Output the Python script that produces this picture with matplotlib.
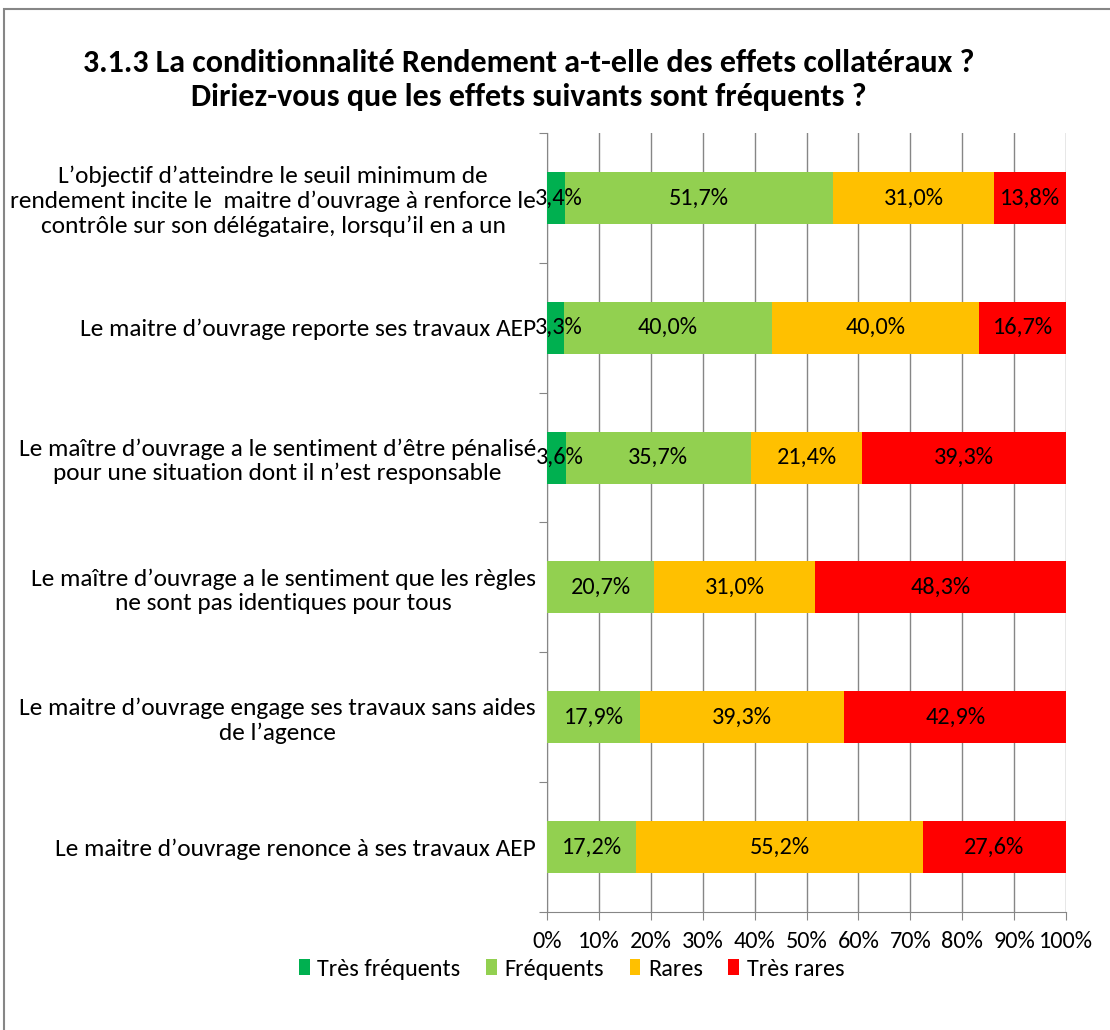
import numpy as np
import matplotlib.pyplot as plt
from matplotlib.patches import Rectangle

plt.rcParams['font.family'] = ['Carlito', 'Lato', 'DejaVu Sans']

# données
categories = [
    "L\u2019objectif d\u2019atteindre le seuil minimum de\nrendement incite le  maitre d\u2019ouvrage \u00e0 renforce le\ncontr\u00f4le sur son d\u00e9l\u00e9gataire, lorsqu\u2019il en a un",
    "Le maitre d\u2019ouvrage reporte ses travaux AEP",
    "Le ma\u00eetre d\u2019ouvrage a le sentiment d\u2019\u00eatre p\u00e9nalis\u00e9\npour une situation dont il n\u2019est responsable",
    "Le ma\u00eetre d\u2019ouvrage a le sentiment que les r\u00e8gles\nne sont pas identiques pour tous",
    "Le maitre d\u2019ouvrage engage ses travaux sans aides\nde l\u2019agence",
    "Le maitre d\u2019ouvrage renonce \u00e0 ses travaux AEP",
]
series_names = ['Tr\u00e8s fr\u00e9quents', 'Fr\u00e9quents', 'Rares', 'Tr\u00e8s rares']
tres_frequents = [3.4, 3.3, 3.6, 0.0, 0.0, 0.0]
frequents = [51.7, 40.0, 35.7, 20.7, 17.9, 17.2]
rares = [31.0, 40.0, 21.4, 31.0, 39.3, 55.2]
tres_rares = [13.8, 16.7, 39.3, 48.3, 42.9, 27.6]
colors = ['#00B050', '#92D050', '#FFC000', '#FF0000']

fig = plt.figure(figsize=(11.1, 10.3), dpi=100)
ax = fig.add_axes([0.4928, 0.1146, 0.4676, 0.7563])

fs = 17.5
y = np.arange(len(categories))
left = np.zeros(len(categories))
for name, vals, col in zip(series_names, [tres_frequents, frequents, rares, tres_rares], colors):
    vals = np.array(vals)
    ax.barh(y, vals, left=left, height=0.40, color=col, label=name, zorder=3)
    for yi, l, v in zip(y, left, vals):
        if v > 0:
            # petites valeurs : décalées un peu à droite comme dans Excel
            xpos = l + v / 2 if v > 5 else l + v / 2 + 0.6
            ax.text(xpos, yi, f'{v:.1f}%'.replace('.', ','), ha='center', va='center',
                    fontsize=fs, zorder=4)
    left += vals

ax.set_xlim(0, 100)
ax.set_ylim(len(categories) - 0.5, -0.5)
ax.set_xticks(np.arange(0, 101, 10))
ax.set_xticklabels([f'{v}%' for v in range(0, 101, 10)], fontsize=fs)
ax.set_yticks(np.arange(-0.5, len(categories), 1))
ax.set_yticklabels([])
ax.set_yticks(y, minor=True)
ax.set_yticklabels(categories, minor=True, fontsize=18.3, ha='right', multialignment='center')
ax.tick_params(axis='y', which='minor', length=0, pad=8)
ax.tick_params(axis='y', which='major', length=6, color='#868686', direction='out')
ax.tick_params(axis='x', length=6, color='#868686', direction='out', pad=8)
ax.grid(axis='x', color='#868686', lw=1, zorder=0)
for s in ['top', 'right']:
    ax.spines[s].set_visible(False)
for s in ['left', 'bottom']:
    ax.spines[s].set_color('#868686')

fig.text(0.476, 0.922,
         '3.1.3 La conditionnalit\u00e9 Rendement a-t-elle des effets collat\u00e9raux ?\nDiriez-vous que les effets suivants sont fr\u00e9quents ?',
         ha='center', va='center', fontsize=23, fontweight='bold', linespacing=1.25)

fig.legend(loc='center', bbox_to_anchor=(0.515, 0.059), ncol=4, frameon=False, fontsize=fs,
           handlelength=0.45, handleheight=0.6, handletextpad=0.3, columnspacing=1.05)

fig.patches.append(Rectangle((4 / 1110, -0.01), 1.2, 1 - 9 / 1030 + 0.01, transform=fig.transFigure,
                             fill=False, edgecolor='#868686', lw=1.5))

fig.savefig('out.png', dpi=100)
